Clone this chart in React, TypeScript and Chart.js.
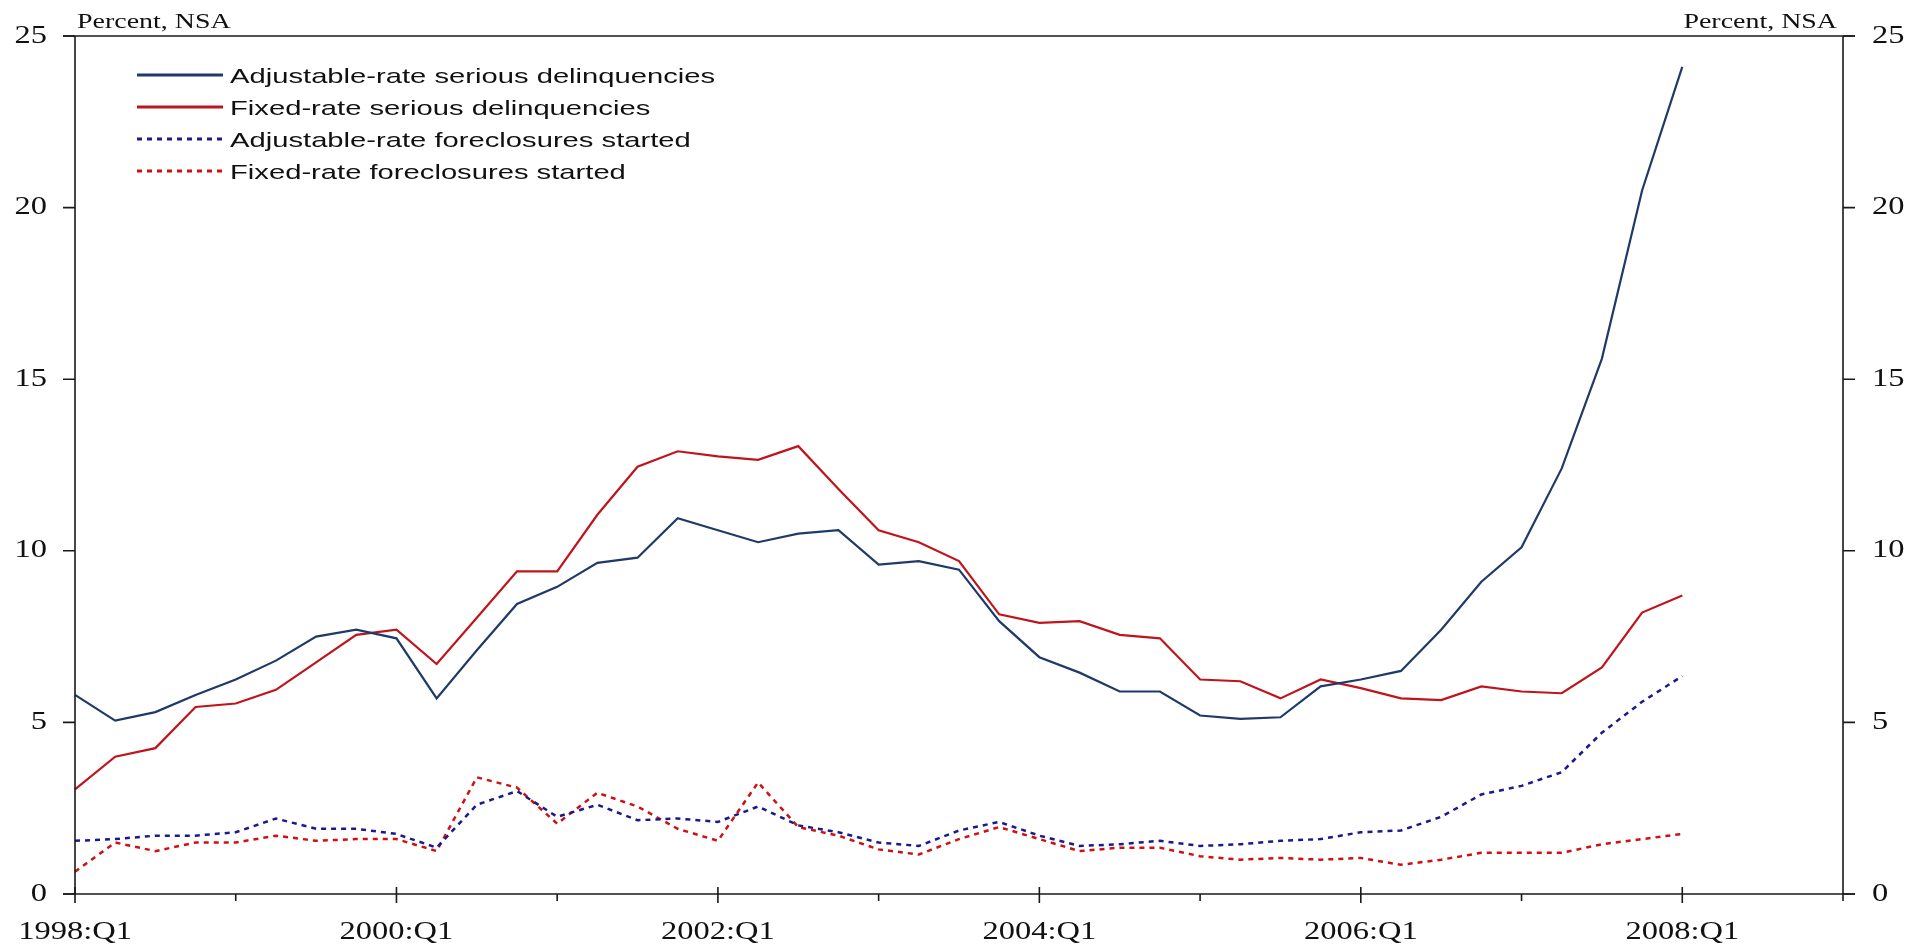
import React, { useEffect, useRef } from 'react';
import { Chart, registerables } from 'chart.js';

Chart.register(...registerables);

const quarters = [
  '1998:Q1', '1998:Q2', '1998:Q3', '1998:Q4',
  '1999:Q1', '1999:Q2', '1999:Q3', '1999:Q4',
  '2000:Q1', '2000:Q2', '2000:Q3', '2000:Q4',
  '2001:Q1', '2001:Q2', '2001:Q3', '2001:Q4',
  '2002:Q1', '2002:Q2', '2002:Q3', '2002:Q4',
  '2003:Q1', '2003:Q2', '2003:Q3', '2003:Q4',
  '2004:Q1', '2004:Q2', '2004:Q3', '2004:Q4',
  '2005:Q1', '2005:Q2', '2005:Q3', '2005:Q4',
  '2006:Q1', '2006:Q2', '2006:Q3', '2006:Q4',
  '2007:Q1', '2007:Q2', '2007:Q3', '2007:Q4',
  '2008:Q1', '2008:Q2', '2008:Q3', '2008:Q4',
  '2009:Q1',
];

const labeledQuarters = ['1998:Q1', '2000:Q1', '2002:Q1', '2004:Q1', '2006:Q1', '2008:Q1'];
const yearTickQuarters = ['1999:Q1', '2001:Q1', '2003:Q1', '2005:Q1', '2007:Q1', '2009:Q1'];
const yTicks = [0, 5, 10, 15, 20, 25];

const armSerious = [
  5.8, 5.05, 5.3, 5.8, 6.25, 6.8, 7.5, 7.7,
  7.45, 5.7, 7.1, 8.45, 8.95, 9.65, 9.8, 10.95,
  10.6, 10.25, 10.5, 10.6, 9.6, 9.7, 9.45, 7.95,
  6.9, 6.45, 5.9, 5.9, 5.2, 5.1, 5.15, 6.05,
  6.25, 6.5, 7.7, 9.1, 10.1, 12.4, 15.6, 20.5,
  24.1,
];

const frmSerious = [
  3.05, 4.0, 4.25, 5.45, 5.55, 5.95, 6.75, 7.55,
  7.7, 6.7, 8.05, 9.4, 9.4, 11.05, 12.45, 12.9,
  12.75, 12.65, 13.05, 11.8, 10.6, 10.25, 9.7, 8.15,
  7.9, 7.95, 7.55, 7.45, 6.25, 6.2, 5.7, 6.25,
  6.0, 5.7, 5.65, 6.05, 5.9, 5.85, 6.6, 8.2,
  8.7,
];

const armForeclosures = [
  1.55, 1.6, 1.7, 1.7, 1.8, 2.2, 1.9, 1.9,
  1.75, 1.35, 2.6, 3.0, 2.25, 2.6, 2.15, 2.2,
  2.1, 2.55, 2.0, 1.8, 1.5, 1.4, 1.85, 2.1,
  1.7, 1.4, 1.45, 1.55, 1.4, 1.45, 1.55, 1.6,
  1.8, 1.85, 2.25, 2.9, 3.15, 3.55, 4.7, 5.6,
  6.35,
];

const frmForeclosures = [
  0.65, 1.5, 1.25, 1.5, 1.5, 1.7, 1.55, 1.6,
  1.6, 1.25, 3.4, 3.1, 2.05, 2.95, 2.55, 1.9,
  1.55, 3.25, 1.95, 1.7, 1.3, 1.15, 1.6, 1.95,
  1.6, 1.25, 1.35, 1.35, 1.1, 1.0, 1.05, 1.0,
  1.05, 0.85, 1.0, 1.2, 1.2, 1.2, 1.45, 1.6,
  1.75,
];

const seriesNames = [
  'Adjustable-rate serious delinquencies',
  'Fixed-rate serious delinquencies',
  'Adjustable-rate foreclosures started',
  'Fixed-rate foreclosures started',
];
const seriesColors = ['#1F3A68', '#C0141C', '#1A1A8C', '#D01010'];
const seriesDashes: number[][] = [[], [], [5, 5], [5, 5]];
const unitLabel = 'Percent, NSA';

const SERIF = '"Liberation Serif", "Times New Roman", serif';
const SANS = '"Liberation Sans", Arial, sans-serif';

function stretchText(ctx: CanvasRenderingContext2D, text: string, x: number, y: number, align: CanvasTextAlign, sx: number) {
  ctx.save();
  ctx.translate(x, y);
  ctx.scale(sx, 1);
  ctx.textAlign = align;
  ctx.fillText(text, 0, 0);
  ctx.restore();
}

const framePlugin = {
  id: 'frameAndText',
  afterDatasetsDraw(chart: any) {
    const ctx: CanvasRenderingContext2D = chart.ctx;
    const area = chart.chartArea;
    const xs = chart.scales.x;
    const ys = chart.scales.y;
    const axisColor = '#1a1a1a';
    ctx.save();
    ctx.strokeStyle = axisColor;
    ctx.lineWidth = 1.6;
    ctx.setLineDash([]);

    // frame lines
    ctx.beginPath();
    ctx.moveTo(area.left - 12, area.top);
    ctx.lineTo(area.right + 12, area.top);
    ctx.moveTo(area.left - 12, area.bottom);
    ctx.lineTo(area.right + 12, area.bottom);
    ctx.moveTo(area.left, area.top);
    ctx.lineTo(area.left, area.bottom);
    ctx.moveTo(area.right, area.top);
    ctx.lineTo(area.right, area.bottom);
    ctx.stroke();

    // y ticks both sides
    ctx.beginPath();
    yTicks.forEach((v) => {
      const py = ys.getPixelForValue(v);
      ctx.moveTo(area.left - 12, py);
      ctx.lineTo(area.left, py);
      ctx.moveTo(area.right, py);
      ctx.lineTo(area.right + 12, py);
    });
    // x major ticks
    labeledQuarters.forEach((q) => {
      const px = xs.getPixelForValue(quarters.indexOf(q));
      ctx.moveTo(px, area.bottom - 7);
      ctx.lineTo(px, area.bottom + 9);
    });
    // x minor ticks
    yearTickQuarters.forEach((q) => {
      const px = xs.getPixelForValue(quarters.indexOf(q));
      ctx.moveTo(px, area.bottom);
      ctx.lineTo(px, area.bottom + 7);
    });
    ctx.stroke();

    // tick labels
    ctx.fillStyle = '#111';
    ctx.font = `25px ${SERIF}`;
    ctx.textBaseline = 'middle';
    yTicks.forEach((v) => {
      const py = ys.getPixelForValue(v);
      stretchText(ctx, String(v), area.left - 28, py, 'right', 1.3);
      stretchText(ctx, String(v), area.right + 29, py, 'left', 1.3);
    });
    labeledQuarters.forEach((q) => {
      const px = xs.getPixelForValue(quarters.indexOf(q));
      stretchText(ctx, q, px, area.bottom + 38, 'center', 1.3);
    });

    // unit labels
    ctx.font = `21px ${SERIF}`;
    ctx.textBaseline = 'alphabetic';
    stretchText(ctx, unitLabel, area.left + 2, area.top - 8, 'left', 1.33);
    stretchText(ctx, unitLabel, area.right - 6, area.top - 8, 'right', 1.33);

    // legend
    const rowY = [75, 107, 139, 171];
    ctx.font = `21px ${SANS}`;
    seriesNames.forEach((name, i) => {
      const y = rowY[i];
      ctx.beginPath();
      ctx.strokeStyle = seriesColors[i];
      ctx.lineWidth = 2.8;
      ctx.setLineDash(seriesDashes[i]);
      ctx.moveTo(area.left + 62, y);
      ctx.lineTo(area.left + 148, y);
      ctx.stroke();
      ctx.setLineDash([]);
      ctx.fillStyle = '#111';
      stretchText(ctx, name, area.left + 155, y + 7.5, 'left', 1.39);
    });
    ctx.restore();
  },
};

export default function App() {
  const canvasRef = useRef<HTMLCanvasElement | null>(null);

  useEffect(() => {
    document.body.style.margin = '0';
    const canvas = canvasRef.current;
    if (!canvas) return;
    const seriesData = [armSerious, frmSerious, armForeclosures, frmForeclosures];
    const chart = new Chart(canvas, {
      type: 'line',
      data: {
        labels: quarters,
        datasets: seriesData.map((d, i) => ({
          label: seriesNames[i],
          data: d,
          borderColor: seriesColors[i],
          backgroundColor: seriesColors[i],
          borderWidth: i < 2 ? 2.2 : 2.5,
          borderDash: seriesDashes[i],
          pointRadius: 0,
          pointHoverRadius: 0,
          tension: 0,
          fill: false,
          clip: false as any,
          order: i < 2 ? 0 : 1,
        })),
      },
      options: {
        animation: false,
        responsive: true,
        maintainAspectRatio: false,
        events: [],
        layout: { padding: { top: 36, left: 0, right: 0, bottom: 0 } },
        plugins: {
          legend: { display: false },
          tooltip: { enabled: false },
          title: { display: false },
        },
        scales: {
          x: {
            type: 'category',
            offset: false,
            grid: { display: false },
            border: { display: false },
            ticks: { display: false },
            afterFit: (s: any) => { s.height = 52; },
          },
          y: {
            position: 'left',
            min: 0,
            max: 25,
            ticks: { display: false, stepSize: 5 },
            grid: { display: false },
            border: { display: false },
            afterFit: (s: any) => { s.width = 75; },
          },
          y2: {
            position: 'right',
            min: 0,
            max: 25,
            ticks: { display: false, stepSize: 5 },
            grid: { display: false },
            border: { display: false },
            afterFit: (s: any) => { s.width = 78; },
          },
        },
      } as any,
      plugins: [framePlugin],
    });
    return () => chart.destroy();
  }, []);

  return (
    <div style={{ position: 'fixed', left: 0, top: 0, width: '1921px', height: '946px', background: '#fff' }}>
      <canvas ref={canvasRef} />
    </div>
  );
}
